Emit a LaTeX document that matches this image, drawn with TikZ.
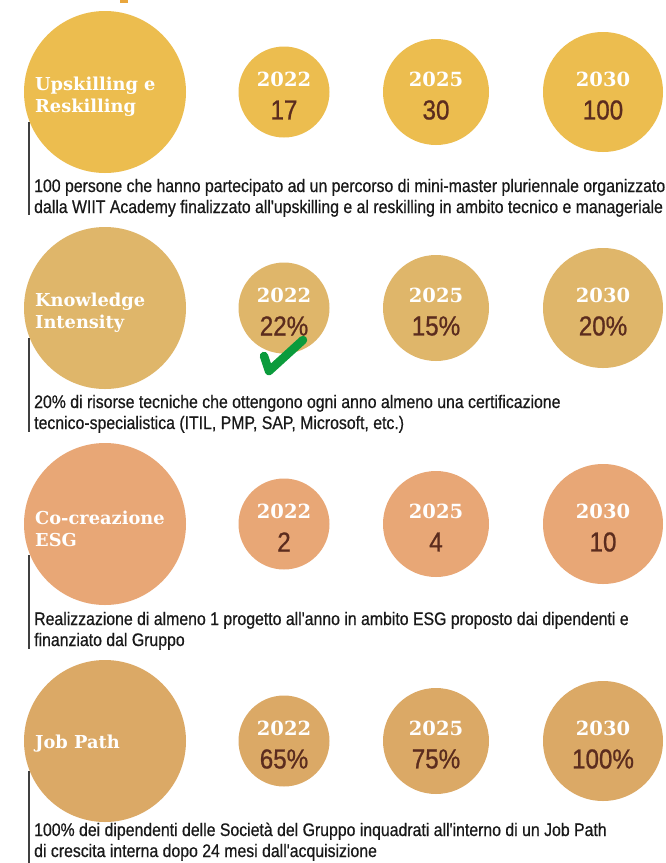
\documentclass[tikz,border=0pt]{standalone}
\usepackage{fontspec}
\usetikzlibrary{backgrounds}
\newfontfamily\condf[FakeStretch=0.87,FakeBold=0.6]{Liberation Sans}
\newfontfamily\numf[FakeStretch=0.88,FakeBold=0.8]{Liberation Sans}
\newfontfamily\slabf{DejaVu Serif}
\definecolor{cA}{HTML}{ECBD4F}
\definecolor{cB}{HTML}{DFB66A}
\definecolor{cC}{HTML}{E8A776}
\definecolor{cD}{HTML}{DBA966}
\definecolor{numc}{HTML}{5B2C1E}
\definecolor{chk}{HTML}{0B9B3C}
\definecolor{topmark}{HTML}{E9A63D}
\tikzset{
  bigc/.style={circle, inner sep=0pt, minimum size=162pt},
  c22/.style={circle, inner sep=0pt, minimum size=91pt},
  c25/.style={circle, inner sep=0pt, minimum size=106pt},
  c30/.style={circle, inner sep=0pt, minimum size=120pt},
  ttl/.style={anchor=west, inner sep=0pt, align=left, text=white, font=\slabf\bfseries\fontsize{17.8}{22}\selectfont},
  yr/.style={inner sep=0pt, text=white, font=\slabf\bfseries\fontsize{19.5}{22}\selectfont},
  num/.style={inner sep=0pt, text=numc, font=\numf\fontsize{27.5}{30}\selectfont},
  desc/.style={anchor=base west, inner sep=0pt, align=left, text=black!90, font=\condf\fontsize{18.2}{21}\selectfont},
  conn/.style={draw=black!85, line width=1.1pt},
  vline/.style={draw=black!75, line width=1.2pt}
}
\begin{document}
\begin{tikzpicture}[x=1pt,y=-1pt]
\useasboundingbox (0,0) rectangle (666,863);
\fill[white] (0,0) rectangle (666,863);
\fill[topmark] (120,0) rectangle (128,3);

% ---------- Row 1 ----------
\node[bigc, fill=cA] (a0) at (105,92) {};
\node[c22, fill=cA] (a1) at (284,92) {};
\node[c25, fill=cA] (a2) at (436,92) {};
\node[c30, fill=cA] (a3) at (603,92) {};
\begin{scope}[on background layer]
\draw[conn] (a0.east) -- (a3.west);
\end{scope}
\node[ttl] (at) at (35,97) {Upskilling e\\Reskilling};
\node[yr] (a1y) at (284,79) {2022};
\node[num] (a1n) at (284,110) {17};
\node[yr] (a2y) at (436,79) {2025};
\node[num] (a2n) at (436,110) {30};
\node[yr] (a3y) at (603,79) {2030};
\node[num] (a3n) at (603,110) {100};
\coordinate (av1) at (29,122);
\coordinate (av2) at (29,215);
\draw[vline] (av1) -- (av2);
\node[desc] (ad) at (34,213) {100 persone che hanno partecipato ad un percorso di mini-master pluriennale organizzato\\dalla WIIT Academy finalizzato all'upskilling e al reskilling in ambito tecnico e manageriale};

% ---------- Row 2 ----------
\node[bigc, fill=cB] (b0) at (105,308) {};
\node[c22, fill=cB] (b1) at (284,308) {};
\node[c25, fill=cB] (b2) at (436,308) {};
\node[c30, fill=cB] (b3) at (603,308) {};
\begin{scope}[on background layer]
\draw[conn] (b0.east) -- (b3.west);
\end{scope}
\node[ttl] (bt) at (35,313) {Knowledge\\Intensity};
\node[yr] (b1y) at (284,295) {2022};
\node[num] (b1n) at (284,326) {22\%};
\node[yr] (b2y) at (436,295) {2025};
\node[num] (b2n) at (436,326) {15\%};
\node[yr] (b3y) at (603,295) {2030};
\node[num] (b3n) at (603,326) {20\%};
\coordinate (ck1) at (264,356);
\coordinate (ck2) at (269,371);
\coordinate (ck3) at (303,340);
\draw[chk, line width=8.5pt, line cap=round, line join=round] (ck1) -- (ck2) -- (ck3);
\coordinate (bv1) at (29,338);
\coordinate (bv2) at (29,432);
\draw[vline] (bv1) -- (bv2);
\node[desc] (bd) at (34,429) {20\% di risorse tecniche che ottengono ogni anno almeno una certificazione\\tecnico-specialistica (ITIL, PMP, SAP, Microsoft, etc.)};

% ---------- Row 3 ----------
\node[bigc, fill=cC] (c0) at (105,524) {};
\node[c22, fill=cC] (c1) at (284,524) {};
\node[c25, fill=cC] (c2) at (436,524) {};
\node[c30, fill=cC] (c3) at (603,524) {};
\begin{scope}[on background layer]
\draw[conn, draw=black!65] (c0.east) -- (c3.west);
\end{scope}
\node[ttl] (ct) at (35,529) {Co-creazione\\ESG};
\node[yr] (c1y) at (284,511) {2022};
\node[num] (c1n) at (284,542) {2};
\node[yr] (c2y) at (436,511) {2025};
\node[num] (c2n) at (436,542) {4};
\node[yr] (c3y) at (603,511) {2030};
\node[num] (c3n) at (603,542) {10};
\coordinate (cv1) at (29,555);
\coordinate (cv2) at (29,649);
\draw[vline] (cv1) -- (cv2);
\node[desc] (cd) at (34,646) {Realizzazione di almeno 1 progetto all'anno in ambito ESG proposto dai dipendenti e\\finanziato dal Gruppo};

% ---------- Row 4 ----------
\node[bigc, fill=cD] (d0) at (105,741) {};
\node[c22, fill=cD] (d1) at (284,741) {};
\node[c25, fill=cD] (d2) at (436,741) {};
\node[c30, fill=cD] (d3) at (603,741) {};
\begin{scope}[on background layer]
\draw[conn, draw=black!65] (d0.east) -- (d3.west);
\end{scope}
\node[ttl] (dt) at (35,744) {Job Path};
\node[yr] (d1y) at (284,728) {2022};
\node[num] (d1n) at (284,759) {65\%};
\node[yr] (d2y) at (436,728) {2025};
\node[num] (d2n) at (436,759) {75\%};
\node[yr] (d3y) at (603,728) {2030};
\node[num] (d3n) at (603,759) {100\%};
\coordinate (dv1) at (29,771);
\coordinate (dv2) at (29,863);
\draw[vline] (dv1) -- (dv2);
\node[desc] (dd) at (34,857) {100\% dei dipendenti delle Società del Gruppo inquadrati all'interno di un Job Path\\di crescita interna dopo 24 mesi dall'acquisizione};
\end{tikzpicture}
\end{document}
